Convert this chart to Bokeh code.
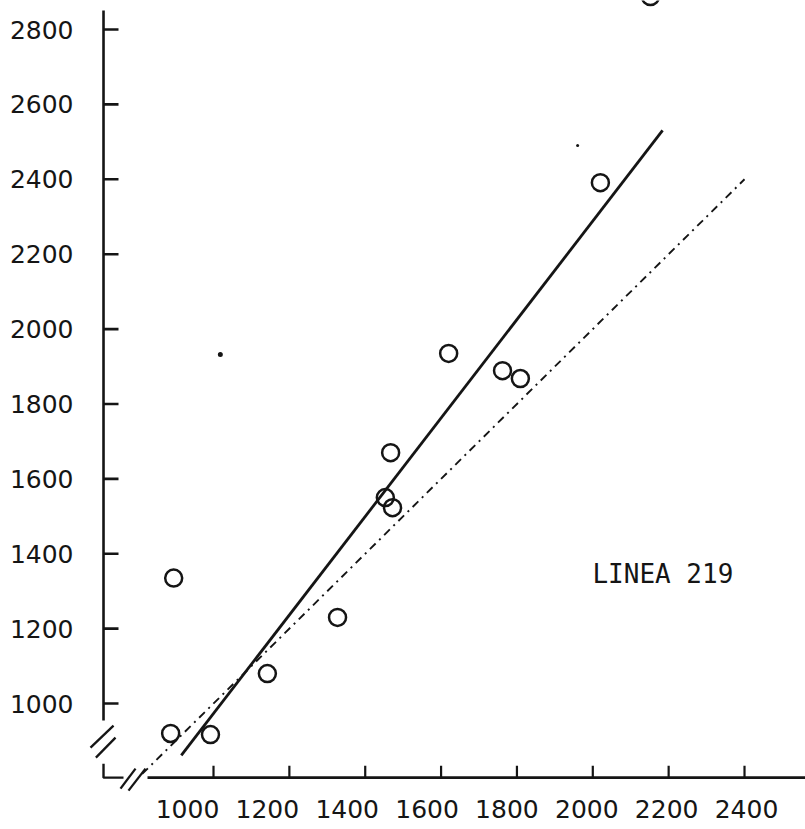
from bokeh.plotting import figure
from bokeh.models import Range1d, LinearAxis, FixedTicker, Label
from bokeh.embed import file_html
from bokeh.resources import INLINE

# Observed values (both axes in the same units)
x_obs = [895, 887, 992, 1142, 1327, 1467, 1453, 1472, 1620, 1762, 1809, 2020, 2152]
y_obs = [1335, 920, 917, 1080, 1230, 1670, 1550, 1523, 1935, 1889, 1868, 2391, 2888]

# Fitted regression line y = intercept + slope * x
fit_slope = 1.315
fit_intercept = -341.5
fit_x = [915, 2184]

# 1:1 reference line
identity_x = [812, 2400]

# Stray ink specks on the sheet
speck_x = [1018, 1960]
speck_y = [1932, 2490]

x_ticks = [1000, 1200, 1400, 1600, 1800, 2000, 2200, 2400]
y_ticks = [1000, 1200, 1400, 1600, 1800, 2000, 2200, 2400, 2600, 2800]

INK = "#151515"
FONT = "DejaVu Sans"

# Hand-drawn axes sit inside the frame so the break marks are not clipped
AXIS_X = 710.0          # where the vertical axis is drawn
AXIS_Y = 802.1          # where the horizontal axis is drawn
Y_AXIS_SPAN = (954.4, 2850.7)
X_AXIS_SPAN = (826.0, 2560.8)
Y_TICK_LEN = 39.5       # in x units
X_TICK_LEN = 32.0       # in y units

p = figure(
    frame_width=720, frame_height=795,
    x_range=Range1d(662.5, 2560.8), y_range=Range1d(754.4, 2877.5),
    x_axis_location=None, y_axis_location=None,
    min_border_left=85, min_border_right=0, min_border_top=0, min_border_bottom=34,
    output_backend="svg", toolbar_location=None,
    background_fill_color="white", border_fill_color="white",
)
p.outline_line_color = None
p.xgrid.visible = False
p.ygrid.visible = False

# Tick lettering on the left
yaxis = LinearAxis(
    ticker=FixedTicker(ticks=y_ticks),
    axis_line_color=None, major_tick_line_color=None, minor_tick_line_color=None,
    major_tick_in=0, major_tick_out=0,
    major_label_standoff=12, major_label_text_font=FONT,
    major_label_text_font_size="25px", major_label_text_color=INK,
)
p.add_layout(yaxis, "left")

# Lettering under the horizontal axis is spaced slightly wider than its ticks
p.extra_x_ranges = {"lettering": Range1d(744.6, 2547.7)}
xaxis = LinearAxis(
    x_range_name="lettering", ticker=FixedTicker(ticks=x_ticks),
    axis_line_color=None, major_tick_line_color=None, minor_tick_line_color=None,
    major_tick_in=0, major_tick_out=0,
    major_label_standoff=4, major_label_text_font=FONT,
    major_label_text_font_size="25px", major_label_text_color=INK,
)
p.add_layout(xaxis, "below")

# Axis lines and inward ticks
p.segment(x0=[AXIS_X, X_AXIS_SPAN[0]], y0=[Y_AXIS_SPAN[0], AXIS_Y],
          x1=[AXIS_X, X_AXIS_SPAN[1]], y1=[Y_AXIS_SPAN[1], AXIS_Y],
          line_color=INK, line_width=2.6)
p.segment(x0=[AXIS_X] * len(y_ticks), y0=y_ticks,
          x1=[AXIS_X + Y_TICK_LEN] * len(y_ticks), y1=y_ticks,
          line_color=INK, line_width=2.6)
p.segment(x0=x_ticks, y0=[AXIS_Y] * len(x_ticks),
          x1=x_ticks, y1=[AXIS_Y + X_TICK_LEN] * len(x_ticks),
          line_color=INK, line_width=2.2)

# Corner stub and the double-slash break marks on each axis
p.line([AXIS_X, AXIS_X, 762.7], [839.5, AXIS_Y, AXIS_Y], line_color=INK, line_width=2.4)
p.segment(x0=[675.7, 689.9, 754.8, 775.9], y0=[882.3, 855.6, 772.8, 767.5],
          x1=[736.4, 741.6, 794.4, 820.7], y1=[941.0, 909.0, 826.2, 826.2],
          line_color=INK, line_width=2.3)

# 1:1 line
p.line(identity_x, identity_x, line_color=INK, line_width=1.9, line_dash="8 5 2 5")

# Regression line
fit_y = [fit_intercept + fit_slope * v for v in fit_x]
p.line(fit_x, fit_y, line_color=INK, line_width=2.8)

# Observations
p.scatter(x_obs, y_obs, marker="circle", size=17, fill_color=None,
          line_color=INK, line_width=2.5)

p.scatter(speck_x, speck_y, marker="circle", size=[5, 3], fill_color=INK, line_color=None)

p.add_layout(Label(x=1999, y=1347, text="LINEA 219", text_font="DejaVu Sans Mono",
                   text_font_size="26px", text_color=INK, text_baseline="alphabetic"))

open("out.html", "w").write(file_html(p, INLINE))
